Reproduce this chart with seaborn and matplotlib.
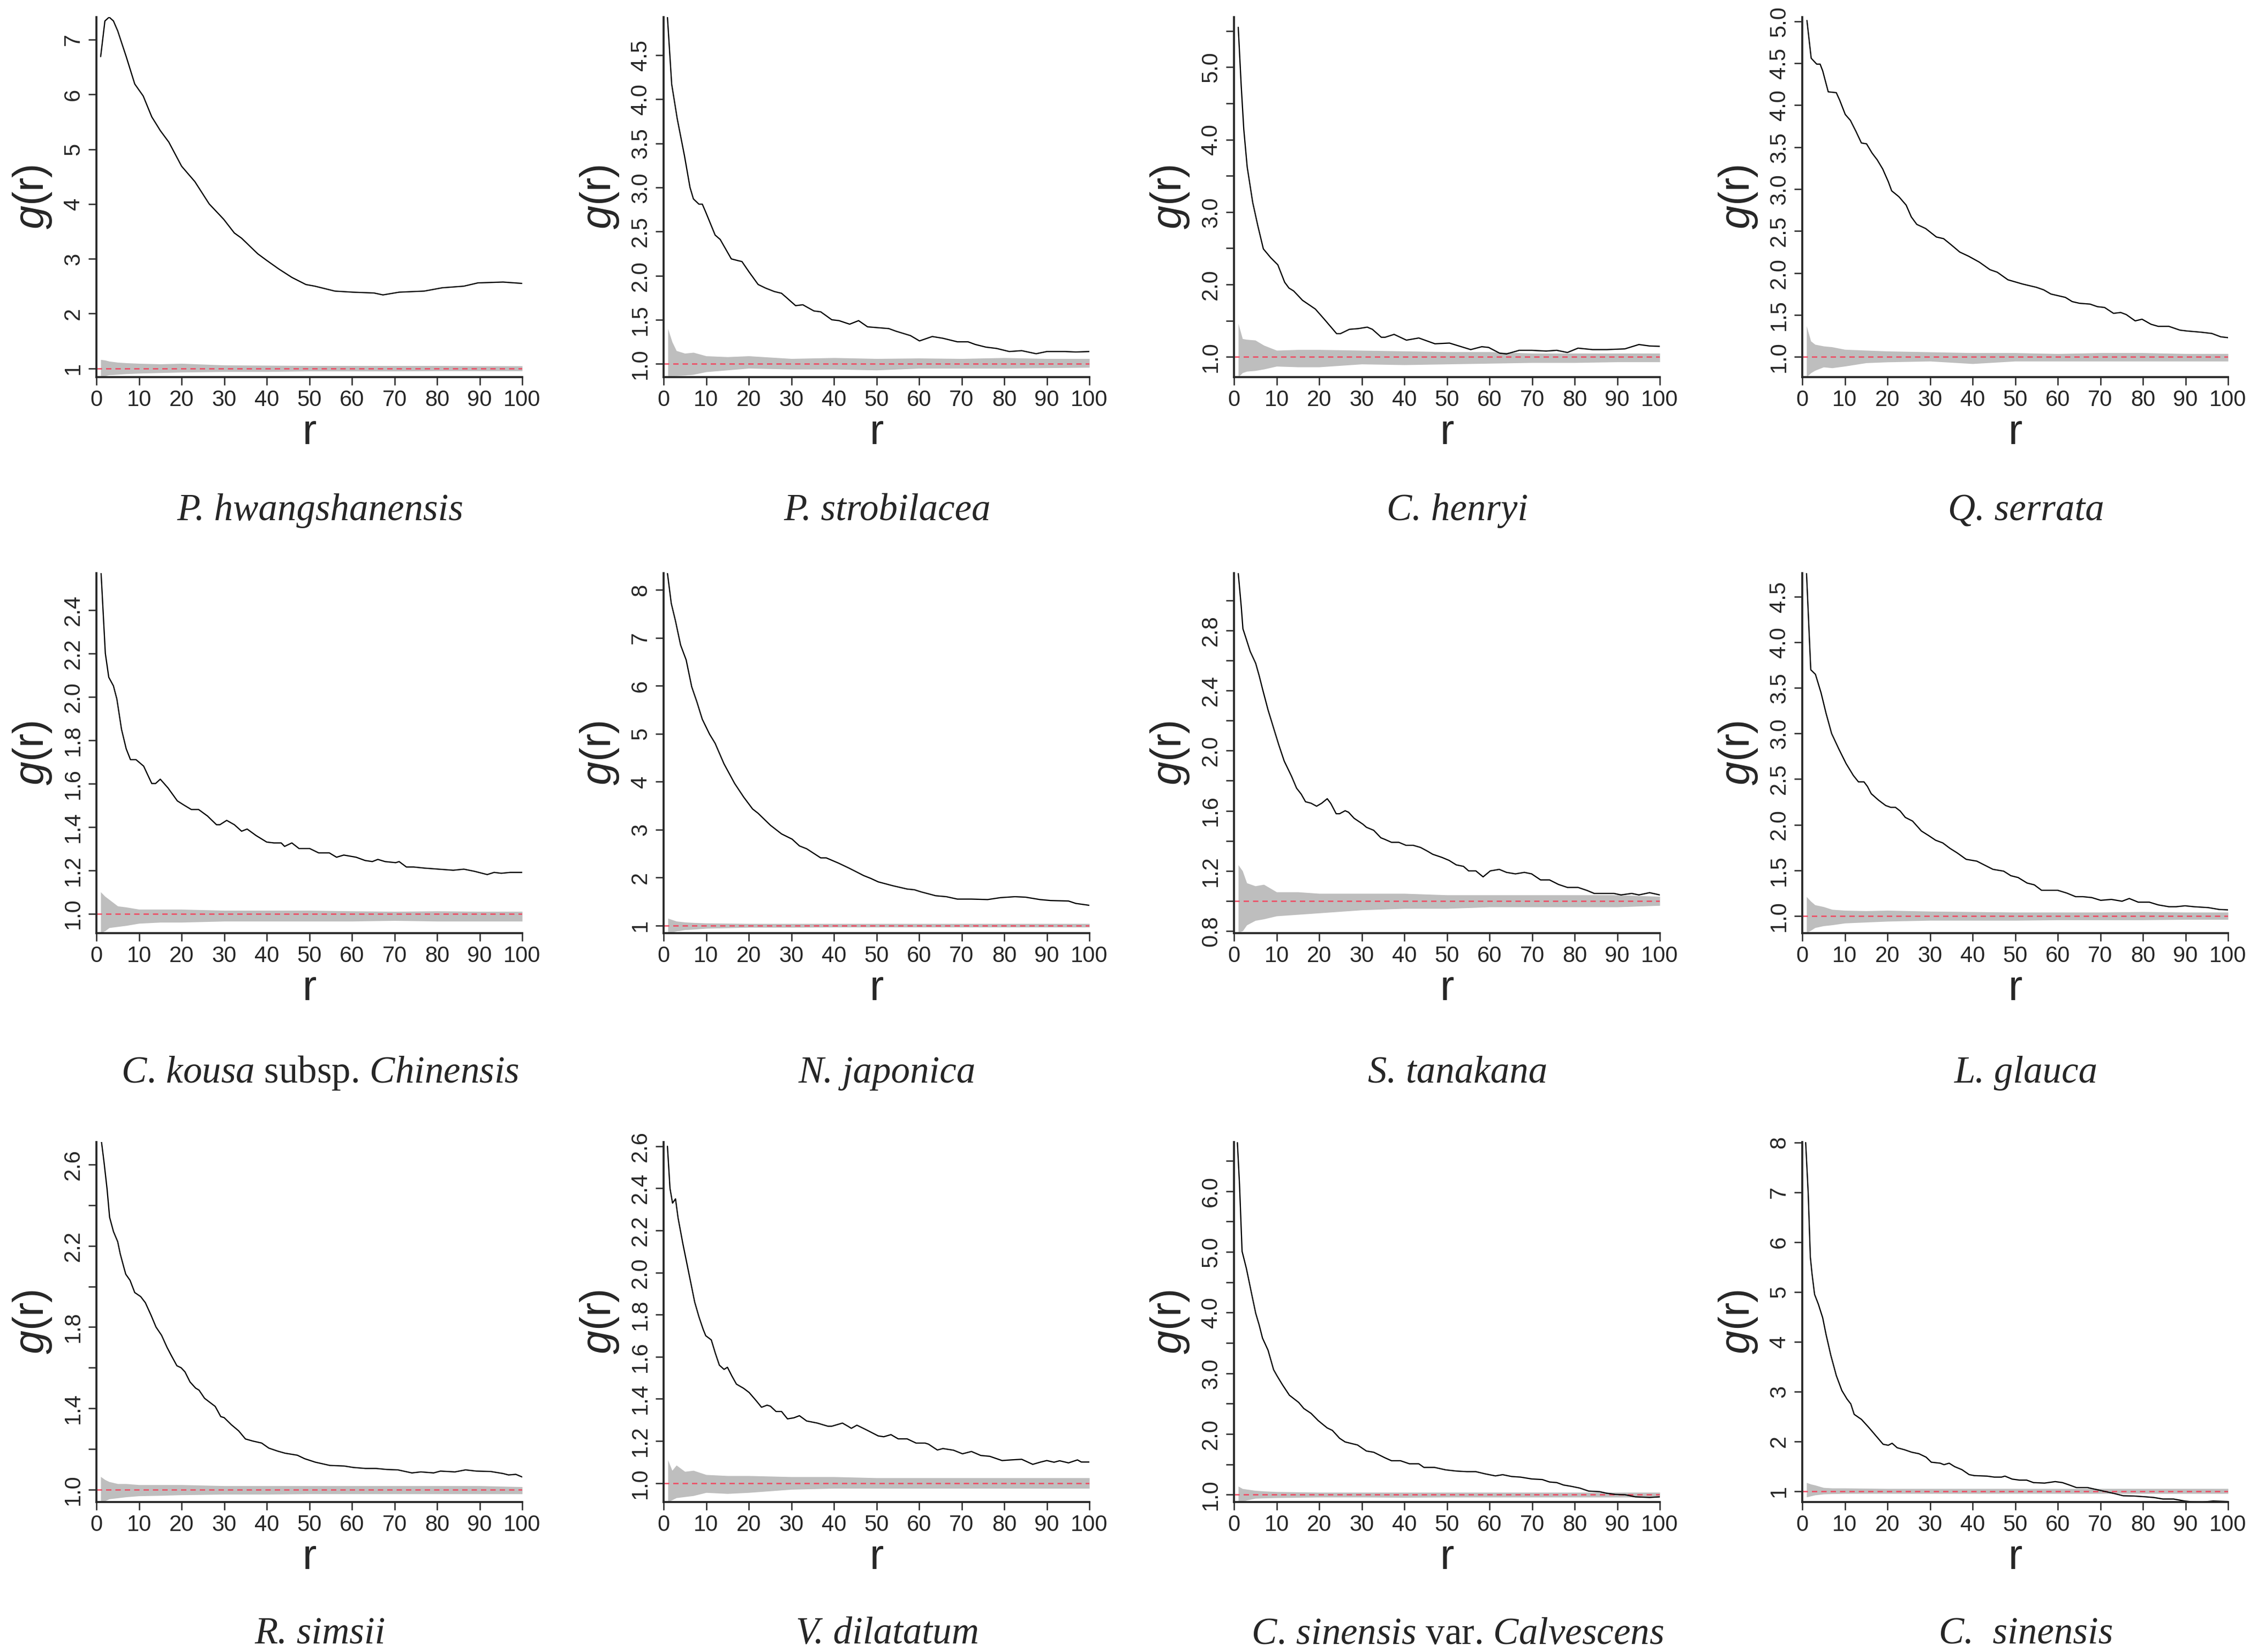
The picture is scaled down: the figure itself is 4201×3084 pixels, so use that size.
import numpy as np
import pandas as pd
import seaborn as sns
import matplotlib.pyplot as plt

# pair correlation g(r) of 12 species, observed curve + simulation envelope
sns.set_style("ticks")
plt.rcParams["font.family"] = ["Liberation Sans", "DejaVu Sans"]
plt.rcParams["mathtext.fontset"] = "custom"
plt.rcParams["mathtext.it"] = "Liberation Serif:italic"
plt.rcParams["mathtext.rm"] = "Liberation Serif"
plt.rcParams["mathtext.sf"] = "Liberation Sans:italic"

# ---- data ----
ENV_R = [1, 2, 3, 5, 7, 10, 15, 20, 30, 40, 50, 60, 70, 80, 90, 100]

hwang_obs = [(1, 6.69), (2, 7.34), (3, 7.41), (4, 7.34), (5, 7.16), (7, 6.69), (9, 6.19), (11, 5.97),
             (13, 5.59), (15, 5.34), (17, 5.13), (20, 4.69), (23.1, 4.41), (26.5, 4.0), (29.9, 3.72),
             (32.4, 3.47), (34.1, 3.375), (37.9, 3.09), (40, 2.97), (42.9, 2.81), (45.9, 2.66),
             (49.2, 2.53), (51.3, 2.5), (56, 2.41), (60.2, 2.39), (65.2, 2.375), (67.3, 2.34),
             (71.1, 2.39), (77, 2.41), (81.2, 2.47), (86.3, 2.5), (89.6, 2.56), (95.5, 2.575), (100, 2.55)]
hwang_hi = [1.16, 1.15, 1.13, 1.11, 1.10, 1.09, 1.08, 1.09, 1.06, 1.055, 1.05, 1.05, 1.05, 1.05, 1.045, 1.045]
hwang_lo = [0.84, 0.86, 0.88, 0.89, 0.90, 0.91, 0.92, 0.93, 0.94, 0.94, 0.95, 0.95, 0.95, 0.955, 0.955, 0.955]

strob_obs = [(0.9, 4.93), (1.9, 4.17), (3.2, 3.78), (4.9, 3.36), (6.2, 3.0), (7.0, 2.87), (8.3, 2.81),
             (9.1, 2.81), (9.9, 2.72), (12.1, 2.46), (13.3, 2.41), (15.9, 2.19), (17.5, 2.17), (18.4, 2.16),
             (20.1, 2.04), (22.2, 1.90), (23.9, 1.86), (26.0, 1.82), (27.7, 1.80), (28.9, 1.75), (31.0, 1.66),
             (32.7, 1.67), (35.3, 1.60), (36.9, 1.59), (39.5, 1.50), (41.2, 1.49), (43.7, 1.45), (45.8, 1.49),
             (47.9, 1.42), (50.4, 1.41), (52.9, 1.40), (54.6, 1.37), (58.0, 1.32), (60.1, 1.26), (63.1, 1.31),
             (65.6, 1.29), (69.0, 1.25), (71.5, 1.25), (73.2, 1.22), (75.7, 1.19), (78.2, 1.175), (81.2, 1.14),
             (84.1, 1.15), (87.5, 1.115), (90.0, 1.14), (94.3, 1.14), (96.8, 1.135), (100, 1.14)]
strob_hi = [1.40, 1.25, 1.15, 1.12, 1.13, 1.09, 1.08, 1.09, 1.06, 1.07, 1.06, 1.065, 1.06, 1.07, 1.06, 1.06]
strob_lo = [0.85, 0.86, 0.865, 0.87, 0.88, 0.91, 0.93, 0.95, 0.94, 0.94, 0.93, 0.95, 0.95, 0.95, 0.955, 0.96]

henryi_obs = [(1.0, 5.55), (1.7, 4.74), (2.3, 4.14), (3.1, 3.62), (4.4, 3.13), (5.6, 2.81), (6.9, 2.49),
              (8.6, 2.37), (10.3, 2.27), (11.9, 2.03), (12.9, 1.95), (14.0, 1.91), (16.1, 1.78), (19.1, 1.66),
              (21.2, 1.52), (24.1, 1.32), (25.0, 1.32), (27.1, 1.38), (29.2, 1.39), (31.3, 1.41), (32.5, 1.38),
              (34.6, 1.27), (35.5, 1.27), (37.6, 1.31), (40.5, 1.23), (43.4, 1.26), (47.2, 1.18), (50.6, 1.19),
              (55.6, 1.10), (58.2, 1.14), (59.8, 1.13), (62.4, 1.05), (64.0, 1.04), (67.0, 1.09), (69.9, 1.09),
              (73.3, 1.08), (75.8, 1.09), (78.3, 1.06), (80.8, 1.12), (84.2, 1.10), (87.6, 1.10), (91.8, 1.11),
              (95.1, 1.17), (97.6, 1.15), (100, 1.145)]
henryi_hi = [1.46, 1.25, 1.24, 1.23, 1.16, 1.09, 1.10, 1.10, 1.09, 1.08, 1.07, 1.07, 1.05, 1.05, 1.05, 1.05]
henryi_lo = [0.72, 0.78, 0.80, 0.81, 0.83, 0.87, 0.86, 0.86, 0.90, 0.89, 0.90, 0.91, 0.92, 0.92, 0.93, 0.93]

serrata_obs = [(1.1, 5.01), (2.1, 4.56), (3.4, 4.49), (4.2, 4.49), (4.8, 4.41), (6.1, 4.16), (8.0, 4.15),
               (8.8, 4.06), (10.1, 3.89), (11.3, 3.82), (12.6, 3.69), (13.9, 3.55), (15.1, 3.54), (16.4, 3.43),
               (17.6, 3.35), (18.9, 3.24), (20.2, 3.09), (21.0, 2.98), (22.7, 2.91), (24.4, 2.81), (25.6, 2.67),
               (26.9, 2.58), (29.0, 2.53), (31.5, 2.43), (33.2, 2.41), (34.9, 2.34), (37.0, 2.25), (39.1, 2.20),
               (41.6, 2.13), (44.1, 2.04), (45.8, 2.01), (48.3, 1.92), (51.7, 1.87), (55.0, 1.83), (56.7, 1.80),
               (58.4, 1.75), (60.1, 1.73), (61.8, 1.71), (63.4, 1.66), (65.1, 1.64), (67.6, 1.63), (69.3, 1.60),
               (71.0, 1.59), (73.1, 1.52), (74.8, 1.53), (76.1, 1.505), (78.2, 1.43), (79.8, 1.45), (81.9, 1.39),
               (83.6, 1.365), (86.1, 1.365), (88.7, 1.32), (90.3, 1.31), (93.7, 1.295), (96.2, 1.28),
               (98.3, 1.24), (100, 1.23)]
serrata_hi = [1.37, 1.19, 1.15, 1.13, 1.12, 1.09, 1.08, 1.07, 1.06, 1.05, 1.05, 1.04, 1.05, 1.05, 1.04, 1.04]
serrata_lo = [0.76, 0.81, 0.84, 0.88, 0.87, 0.89, 0.93, 0.94, 0.95, 0.92, 0.95, 0.95, 0.95, 0.95, 0.95, 0.95]

kousa_obs = [(1.1, 2.57), (2.1, 2.20), (2.9, 2.09), (4.0, 2.05), (4.8, 1.99), (5.9, 1.85), (7.0, 1.76),
             (8.0, 1.71), (9.3, 1.71), (11.1, 1.68), (13.0, 1.60), (13.9, 1.60), (15.0, 1.62), (16.8, 1.58),
             (19.0, 1.52), (20.6, 1.50), (22.3, 1.48), (24.0, 1.48), (26.1, 1.45), (28.2, 1.41), (29.0, 1.41),
             (30.6, 1.43), (32.4, 1.41), (34.1, 1.38), (35.4, 1.39), (37.5, 1.36), (40.0, 1.33), (41.7, 1.326),
             (43.4, 1.326), (44.2, 1.31), (45.9, 1.326), (47.6, 1.30), (50.1, 1.30), (52.2, 1.28), (54.7, 1.28),
             (56.4, 1.26), (58.1, 1.27), (61.0, 1.26), (63.1, 1.245), (64.8, 1.24), (66.1, 1.25), (67.8, 1.24),
             (70.3, 1.235), (71.1, 1.24), (72.8, 1.215), (74.5, 1.215), (77.0, 1.21), (80.4, 1.205),
             (83.8, 1.20), (86.3, 1.205), (88.8, 1.195), (91.8, 1.18), (93.4, 1.19), (95.1, 1.186),
             (97.2, 1.19), (100, 1.19)]
kousa_hi = [1.10, 1.08, 1.065, 1.035, 1.03, 1.02, 1.02, 1.02, 1.015, 1.015, 1.015, 1.012, 1.01, 1.012, 1.01, 1.01]
kousa_lo = [0.91, 0.92, 0.935, 0.94, 0.945, 0.955, 0.96, 0.96, 0.965, 0.965, 0.965, 0.965, 0.968, 0.965, 0.965, 0.965]

japonica_obs = [(0.9, 8.35), (1.8, 7.72), (2.8, 7.35), (4.0, 6.85), (5.3, 6.54), (6.6, 5.98), (7.8, 5.67),
                (9.1, 5.30), (10.8, 4.99), (12.1, 4.80), (14.2, 4.37), (16.7, 3.96), (18.8, 3.68), (20.9, 3.43),
                (22.2, 3.34), (25.1, 3.09), (27.7, 2.91), (30.2, 2.80), (31.9, 2.66), (33.6, 2.60), (36.9, 2.41),
                (38.2, 2.41), (41.1, 2.30), (43.7, 2.19), (47.0, 2.04), (48.7, 1.98), (50.4, 1.91), (53.8, 1.83),
                (57.2, 1.76), (58.9, 1.745), (60.5, 1.70), (63.9, 1.62), (66.4, 1.60), (69.0, 1.55), (72.3, 1.55),
                (76.1, 1.54), (79.1, 1.58), (82.5, 1.60), (85.0, 1.59), (88.4, 1.54), (90.9, 1.52), (95.1, 1.51),
                (96.8, 1.46), (100, 1.42)]
japonica_hi = [1.15, 1.12, 1.09, 1.07, 1.06, 1.05, 1.045, 1.04, 1.04, 1.04, 1.04, 1.04, 1.04, 1.04, 1.04, 1.04]
japonica_lo = [0.84, 0.86, 0.88, 0.91, 0.92, 0.94, 0.95, 0.96, 0.96, 0.965, 0.965, 0.965, 0.965, 0.965, 0.965, 0.965]

tanakana_obs = [(1.0, 3.18), (1.7, 2.96), (2.1, 2.81), (2.9, 2.74), (3.8, 2.66), (5.1, 2.58), (5.9, 2.50),
                (6.7, 2.41), (8.0, 2.27), (9.3, 2.15), (10.5, 2.04), (11.8, 1.93), (13.5, 1.83), (14.7, 1.75),
                (15.8, 1.71), (16.8, 1.66), (18.1, 1.65), (19.4, 1.63), (20.6, 1.65), (21.9, 1.68), (22.7, 1.65),
                (24.0, 1.58), (24.8, 1.58), (26.1, 1.60), (26.9, 1.59), (28.2, 1.55), (30.3, 1.51), (31.1, 1.49),
                (32.8, 1.47), (34.5, 1.42), (35.4, 1.41), (37.0, 1.39), (38.7, 1.39), (40.4, 1.37), (42.1, 1.37),
                (43.8, 1.356), (45.5, 1.33), (46.7, 1.31), (48.8, 1.29), (50.5, 1.27), (52.2, 1.24), (53.9, 1.23),
                (55.1, 1.20), (56.8, 1.20), (58.5, 1.16), (60.2, 1.20), (62.3, 1.21), (64.0, 1.19), (66.1, 1.18),
                (68.2, 1.19), (69.9, 1.18), (72.0, 1.14), (74.1, 1.14), (76.2, 1.11), (78.3, 1.09), (80.8, 1.09),
                (82.9, 1.07), (84.6, 1.05), (86.7, 1.05), (89.2, 1.05), (90.9, 1.04), (93.4, 1.05), (95.1, 1.04),
                (97.6, 1.055), (100, 1.04)]
tanakana_hi = [1.24, 1.20, 1.12, 1.10, 1.11, 1.06, 1.06, 1.05, 1.05, 1.05, 1.04, 1.04, 1.04, 1.04, 1.04, 1.03]
tanakana_lo = [0.79, 0.80, 0.84, 0.87, 0.88, 0.90, 0.91, 0.92, 0.94, 0.95, 0.95, 0.96, 0.96, 0.96, 0.96, 0.97]

glauca_obs = [(1.0, 4.76), (2.0, 3.70), (3.1, 3.65), (4.4, 3.45), (5.6, 3.22), (6.9, 3.00), (8.6, 2.83),
              (10.3, 2.67), (12.0, 2.54), (13.2, 2.47), (14.5, 2.47), (15.3, 2.42), (16.2, 2.34), (17.9, 2.27),
              (19.6, 2.21), (20.8, 2.19), (21.9, 2.19), (23.0, 2.15), (24.2, 2.08), (25.9, 2.04), (28.0, 1.93),
              (29.7, 1.88), (31.3, 1.83), (33.0, 1.80), (34.7, 1.74), (36.4, 1.69), (38.5, 1.62), (41.0, 1.60),
              (43.1, 1.55), (44.8, 1.51), (47.3, 1.49), (49.0, 1.44), (50.7, 1.42), (52.8, 1.36), (54.5, 1.34),
              (56.2, 1.28), (58.3, 1.28), (60.0, 1.28), (62.1, 1.25), (64.2, 1.21), (65.9, 1.21), (68.0, 1.20),
              (70.1, 1.17), (72.6, 1.18), (75.1, 1.16), (76.8, 1.19), (78.9, 1.15), (81.5, 1.15), (83.6, 1.12),
              (86.1, 1.10), (87.8, 1.10), (89.9, 1.11), (92.0, 1.10), (95.4, 1.09), (97.9, 1.07), (100, 1.065)]
glauca_hi = [1.21, 1.16, 1.12, 1.10, 1.07, 1.06, 1.055, 1.06, 1.05, 1.045, 1.04, 1.04, 1.04, 1.045, 1.04, 1.04]
glauca_lo = [0.81, 0.84, 0.87, 0.89, 0.90, 0.92, 0.93, 0.94, 0.95, 0.95, 0.95, 0.955, 0.955, 0.955, 0.96, 0.96]

simsii_obs = [(1.2, 2.71), (1.8, 2.61), (2.5, 2.48), (3.1, 2.34), (4.0, 2.27), (5.0, 2.22), (5.6, 2.16),
              (6.5, 2.09), (6.9, 2.06), (7.9, 2.03), (9.0, 1.97), (10.4, 1.95), (11.5, 1.92), (12.8, 1.86),
              (14.0, 1.80), (15.3, 1.76), (16.6, 1.70), (17.6, 1.66), (18.9, 1.61), (19.9, 1.60), (20.8, 1.58),
              (22.0, 1.53), (23.3, 1.50), (24.1, 1.49), (25.4, 1.45), (27.9, 1.41), (29.2, 1.36), (30.0, 1.355),
              (31.7, 1.32), (33.4, 1.29), (35.0, 1.25), (36.7, 1.24), (38.8, 1.23), (40.5, 1.205), (42.6, 1.19),
              (44.3, 1.18), (47.2, 1.17), (48.9, 1.153), (51.4, 1.136), (54.8, 1.12), (58.2, 1.117), (60.3, 1.11),
              (63.2, 1.105), (65.7, 1.105), (68.2, 1.10), (70.8, 1.098), (74.1, 1.083), (76.2, 1.088),
              (79.2, 1.083), (80.8, 1.092), (84.2, 1.088), (86.7, 1.098), (89.2, 1.092), (92.6, 1.09),
              (95.5, 1.08), (96.8, 1.073), (98.5, 1.076), (100, 1.063)]
simsii_hi = [1.065, 1.05, 1.04, 1.03, 1.03, 1.025, 1.025, 1.025, 1.02, 1.02, 1.02, 1.02, 1.02, 1.02, 1.02, 1.015]
simsii_lo = [0.94, 0.945, 0.955, 0.96, 0.965, 0.97, 0.972, 0.975, 0.978, 0.978, 0.98, 0.98, 0.98, 0.98, 0.98, 0.98]

dilat_obs = [(0.9, 2.60), (1.5, 2.40), (2.1, 2.33), (2.8, 2.35), (3.4, 2.26), (4.5, 2.14), (5.3, 2.06),
             (6.2, 1.97), (7.3, 1.86), (8.3, 1.79), (9.3, 1.73), (9.9, 1.70), (11.2, 1.68), (12.1, 1.62),
             (13.1, 1.56), (14.2, 1.54), (15.0, 1.55), (16.0, 1.51), (17.1, 1.47), (18.8, 1.45), (20.1, 1.43),
             (21.8, 1.39), (23.0, 1.36), (24.3, 1.37), (25.1, 1.365), (26.4, 1.34), (27.7, 1.34), (29.1, 1.305),
             (30.6, 1.31), (31.9, 1.32), (33.6, 1.295), (36.1, 1.285), (38.6, 1.27), (39.5, 1.27), (42.0, 1.285),
             (43.3, 1.27), (44.1, 1.26), (45.4, 1.275), (47.9, 1.25), (50.4, 1.224), (51.7, 1.22), (53.4, 1.23),
             (55.1, 1.21), (57.2, 1.21), (59.3, 1.19), (61.4, 1.19), (62.2, 1.185), (64.3, 1.157), (65.6, 1.164),
             (68.1, 1.156), (70.2, 1.139), (72.3, 1.15), (74.5, 1.131), (76.6, 1.127), (79.5, 1.107),
             (81.6, 1.11), (84.1, 1.113), (86.7, 1.089), (88.4, 1.099), (90.0, 1.107), (91.7, 1.099),
             (93.0, 1.106), (95.1, 1.096), (97.2, 1.11), (98.1, 1.10), (100, 1.10)]
dilat_hi = [1.11, 1.06, 1.085, 1.055, 1.06, 1.04, 1.035, 1.035, 1.03, 1.03, 1.025, 1.025, 1.025, 1.025, 1.025, 1.025]
dilat_lo = [0.91, 0.92, 0.93, 0.935, 0.94, 0.955, 0.95, 0.955, 0.97, 0.975, 0.975, 0.975, 0.975, 0.975, 0.975, 0.975]

calv_obs = [(0.8, 6.80), (1.3, 6.11), (1.9, 5.01), (2.9, 4.73), (4.2, 4.29), (5.1, 3.99), (5.9, 3.80),
            (6.7, 3.58), (8.0, 3.38), (9.3, 3.06), (10.1, 2.96), (11.4, 2.81), (13.0, 2.64), (15.2, 2.52),
            (16.4, 2.42), (18.1, 2.34), (19.8, 2.22), (21.9, 2.10), (23.1, 2.06), (24.8, 1.93), (26.1, 1.87),
            (27.8, 1.84), (29.0, 1.82), (31.1, 1.72), (32.8, 1.70), (35.4, 1.61), (37.0, 1.56), (39.1, 1.56),
            (41.2, 1.51), (43.4, 1.51), (44.6, 1.45), (47.1, 1.45), (49.7, 1.41), (52.2, 1.39), (54.7, 1.38),
            (56.8, 1.38), (58.9, 1.345), (61.4, 1.31), (63.1, 1.33), (65.2, 1.30), (67.3, 1.29), (69.9, 1.26),
            (72.4, 1.25), (74.1, 1.21), (75.8, 1.20), (77.4, 1.16), (79.1, 1.14), (81.2, 1.11), (83.3, 1.06),
            (85.9, 1.05), (87.5, 1.025), (89.6, 1.005), (91.8, 1.00), (94.3, 0.965), (97.6, 0.955), (100, 0.965)]
calv_hi = [1.14, 1.10, 1.09, 1.07, 1.06, 1.05, 1.045, 1.04, 1.04, 1.04, 1.04, 1.04, 1.04, 1.04, 1.04, 1.04]
calv_lo = [0.88, 0.89, 0.91, 0.94, 0.945, 0.95, 0.955, 0.96, 0.96, 0.955, 0.96, 0.96, 0.96, 0.96, 0.96, 0.96]

sinensis_obs = [(0.8, 8.0), (1.4, 6.98), (1.9, 5.70), (2.3, 5.36), (2.9, 4.95), (3.8, 4.75), (4.8, 4.48),
                (5.6, 4.14), (6.7, 3.73), (8.0, 3.32), (9.3, 3.02), (10.5, 2.85), (11.4, 2.75), (12.2, 2.54),
                (13.9, 2.44), (15.6, 2.28), (17.3, 2.11), (19.0, 1.94), (20.2, 1.92), (21.1, 1.96), (22.3, 1.87),
                (24.0, 1.83), (25.7, 1.78), (27.4, 1.75), (29.1, 1.68), (30.3, 1.58), (32.4, 1.56), (33.3, 1.53),
                (34.5, 1.56), (35.8, 1.49), (37.5, 1.43), (39.2, 1.33), (40.4, 1.31), (43.4, 1.30), (45.1, 1.28),
                (46.8, 1.28), (47.6, 1.30), (49.3, 1.24), (51.0, 1.22), (52.7, 1.22), (54.3, 1.17), (56.9, 1.16),
                (59.4, 1.19), (61.1, 1.17), (62.8, 1.12), (64.4, 1.07), (67.0, 1.07), (69.1, 1.03), (71.2, 0.99),
                (73.3, 0.95), (75.4, 0.905), (77.9, 0.90), (80.5, 0.885), (82.6, 0.87), (84.7, 0.84),
                (87.2, 0.84), (89.8, 0.80), (91.5, 0.785), (94.0, 0.78), (96.5, 0.80), (100, 0.79)]
sinensis_hi = [1.17, 1.14, 1.12, 1.07, 1.06, 1.06, 1.055, 1.05, 1.05, 1.05, 1.05, 1.05, 1.05, 1.05, 1.05, 1.05]
sinensis_lo = [0.88, 0.90, 0.92, 0.94, 0.945, 0.95, 0.95, 0.95, 0.95, 0.95, 0.95, 0.95, 0.95, 0.95, 0.95, 0.95]

labels = ["P. hwangshanensis", "P. strobilacea", "C. henryi", "Q. serrata",
          r"$\mathit{C.\,kousa}$ subsp. $\mathit{Chinensis}$",
          "N. japonica", "S. tanakana", "L. glauca", "R. simsii", "V. dilatatum",
          r"$\mathit{C.\,sinensis}$ var. $\mathit{Calvescens}$", "C.  sinensis"]

# y axis: limits, ticks, label every n-th tick, format
panels = [
    (hwang_obs, hwang_hi, hwang_lo, (0.84, 7.41), np.arange(1, 7.01, 1), 1, "{:.0f}"),
    (strob_obs, strob_hi, strob_lo, (0.85, 4.93), np.arange(1, 4.51, 0.5), 1, "{:.1f}"),
    (henryi_obs, henryi_hi, henryi_lo, (0.72, 5.69), np.arange(1, 5.51, 0.5), 2, "{:.1f}"),
    (serrata_obs, serrata_hi, serrata_lo, (0.76, 5.05), np.arange(1, 5.01, 0.5), 1, "{:.1f}"),
    (kousa_obs, kousa_hi, kousa_lo, (0.91, 2.57), np.arange(1, 2.41, 0.2), 1, "{:.1f}"),
    (japonica_obs, japonica_hi, japonica_lo, (0.84, 8.35), np.arange(1, 8.01, 1), 1, "{:.0f}"),
    (tanakana_obs, tanakana_hi, tanakana_lo, (0.786, 3.18), np.arange(0.8, 3.01, 0.2), 2, "{:.1f}"),
    (glauca_obs, glauca_hi, glauca_lo, (0.81, 4.76), np.arange(1, 4.51, 0.5), 1, "{:.1f}"),
    (simsii_obs, simsii_hi, simsii_lo, (0.94, 2.71), np.arange(1, 2.61, 0.2), 2, "{:.1f}"),
    (dilat_obs, dilat_hi, dilat_lo, (0.91, 2.62), np.arange(1, 2.61, 0.2), 1, "{:.1f}"),
    (calv_obs, calv_hi, calv_lo, (0.88, 6.81), np.arange(1, 6.51, 0.5), 2, "{:.1f}"),
    (sinensis_obs, sinensis_hi, sinensis_lo, (0.78, 8.01), np.arange(1, 8.01, 1), 1, "{:.0f}"),
]

W, H = 4201, 3084
col_left = [180, 1239, 2304, 3365]
row_top = [32, 1070, 2132]
ax_w, ax_h = 795, 672
label_y = [954, 2003, 3051]

fig = plt.figure(figsize=(W / 300, H / 300), dpi=300)

for i, (obs, hi, lo, ylim, yt, every, fmt) in enumerate(panels):
    row, col = divmod(i, 4)
    ax = fig.add_axes([col_left[col] / W, 1 - (row_top[row] + ax_h) / H, ax_w / W, ax_h / H])
    ax.fill_between(ENV_R, lo, hi, color="#BEBEBE", lw=0)
    ax.axhline(1, color="#F04860", ls=(0, (4, 3)), lw=0.6)
    df = pd.DataFrame(obs, columns=["r", "g"])
    sns.lineplot(data=df, x="r", y="g", ax=ax, color="black", lw=0.55)

    ax.set_xlim(0, 100)
    ax.set_ylim(*ylim)
    ax.set_xticks(range(0, 101, 10))
    ax.set_yticks(yt)
    ylabs = [fmt.format(v) if k % every == 0 else "" for k, v in enumerate(yt)]
    ax.set_yticklabels(ylabs, rotation=90, va="center")
    ax.tick_params(direction="out", length=3.5, width=0.6, labelsize=10, pad=2)
    sns.despine(ax=ax)
    for s in ("left", "bottom"):
        ax.spines[s].set_linewidth(0.9)
    ax.set_xlabel("r", fontsize=19, labelpad=1)
    ax.set_ylabel(r"$\mathsf{g}$(r)", fontsize=19, labelpad=4)

    cx = (col_left[col] + ax_w / 2 + 20) / W
    style = "normal" if "$" in labels[i] else "italic"
    fig.text(cx, 1 - label_y[row] / H, labels[i], ha="center", va="center",
             fontsize=17, family="Liberation Serif", style=style)

fig.savefig("out.png", dpi=300)
